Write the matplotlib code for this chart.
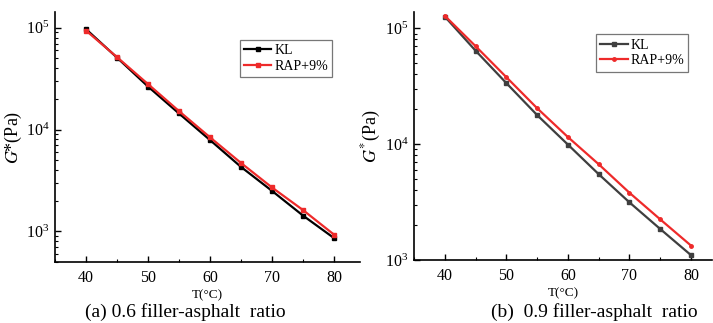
import matplotlib
matplotlib.use("Agg")
import matplotlib.pyplot as plt
from matplotlib.ticker import LogLocator, MultipleLocator, NullFormatter

plt.rcParams['font.family'] = ['Liberation Serif', 'DejaVu Serif']
plt.rcParams['mathtext.fontset'] = 'stix'

temps = [40, 45, 50, 55, 60, 65, 70, 75, 80]
kl_a = [97000, 51000, 26500, 14400, 7900, 4300, 2500, 1430, 860]
rap_a = [94000, 51500, 28000, 15200, 8400, 4700, 2700, 1620, 930]
kl_b = [126000, 64000, 33600, 17800, 9900, 5500, 3140, 1850, 1100]
rap_b = [128000, 70000, 37800, 20400, 11500, 6700, 3800, 2240, 1330]

W, H = 713, 323
fig = plt.figure(figsize=(W / 100, H / 100), dpi=100)

def make_ax(l, t, r, b):
    return fig.add_axes([l / W, (H - b) / H, (r - l) / W, (b - t) / H])

axA = make_ax(55, 12, 360, 262)
axB = make_ax(414, 12, 712, 260)

def style(ax, ylim, xlim):
    ax.set_yscale('log')
    ax.set_ylim(*ylim)
    ax.set_xlim(*xlim)
    for s in ['top', 'right']:
        ax.spines[s].set_visible(False)
    for s in ['left', 'bottom']:
        ax.spines[s].set_linewidth(1.2)
    ax.xaxis.set_major_locator(MultipleLocator(10))
    ax.xaxis.set_minor_locator(MultipleLocator(5))
    ax.yaxis.set_major_locator(LogLocator(base=10, numticks=10))
    ax.yaxis.set_minor_locator(LogLocator(base=10, subs=range(2, 10), numticks=20))
    ax.yaxis.set_minor_formatter(NullFormatter())
    ax.tick_params(which='both', direction='in', labelsize=11.5)
    ax.tick_params(axis='x', which='major', pad=6)
    ax.tick_params(axis='y', which='major', pad=4)
    ax.tick_params(which='major', length=4, width=1)
    ax.tick_params(which='minor', length=2.5, width=0.8)
    ax.set_xlabel('T(°C)', fontsize=9.5, labelpad=2)

style(axA, (500, 143000), (35, 84.2))
style(axB, (1000, 138000), (35, 83.4))

axA.plot(temps, kl_a, color='black', lw=1.6, marker='s', ms=2.5, label='KL')
axA.plot(temps, rap_a, color='#ee2a2a', lw=1.6, marker='s', ms=2.5, label='RAP+9%')
axB.plot(temps, kl_b, color='#3f3f3f', lw=1.6, marker='s', ms=2.5, label='KL')
axB.plot(temps, rap_b, color='#ee2a2a', lw=1.6, marker='o', ms=2.5, label='RAP+9%')

axA.set_ylabel(r'$G$*(Pa)', fontsize=13, labelpad=1)
axB.set_ylabel(r'$G^{*}$(Pa)', fontsize=13, labelpad=1)

for ax, loc in [(axA, (0.605, 0.74)), (axB, (0.61, 0.76))]:
    leg = ax.legend(loc='lower left', bbox_to_anchor=loc, fontsize=10, frameon=True,
                    fancybox=False, edgecolor='#555555', handlelength=2.0,
                    handletextpad=0.2, borderpad=0.3, labelspacing=0.2,
                    borderaxespad=0)
    leg.get_frame().set_linewidth(0.9)

fig.text(185 / W, (H - 312) / H, '(a) 0.6 filler-asphalt  ratio', ha='center', va='center', fontsize=14)
fig.text(594 / W, (H - 312) / H, '(b)  0.9 filler-asphalt  ratio', ha='center', va='center', fontsize=14)

fig.savefig('out.png', dpi=100)
